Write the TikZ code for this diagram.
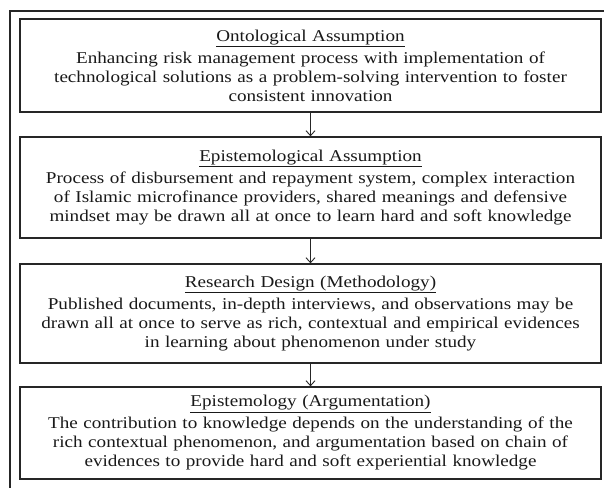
\documentclass[tikz,border=0pt]{standalone}
\usepackage{fontspec}
\setmainfont{Liberation Serif}[FakeStretch=1.16]
\usepackage{tikz}
\usetikzlibrary{arrows.meta}
\tikzstyle{arrow} = [-{Straight Barb[length=5pt,width=9pt]},line width=0.9pt]
\tikzstyle{stage} = [draw,line width=1.3pt,minimum width=581pt,text width=579pt,align=center,inner sep=0pt,text=black!90,font=\fontsize{16.5}{19}\selectfont]

\begin{document}
\begin{tikzpicture}[x=1pt,y=-1pt,color=black!85]
        \useasboundingbox (0,0) rectangle (604,487);
        \draw[line width=1.3pt] (10,11) rectangle (612,495);

        \node[stage, minimum height=93pt] at (310.5,65.5) (onto) {\underline{Ontological Assumption}\\[3pt]
          Enhancing risk management process with implementation of\\
          technological solutions as a problem-solving intervention to foster\\
          consistent innovation};
        \node[stage, minimum height=101pt] at (310.5,187.5) (epis) {\underline{Epistemological Assumption}\\[3pt]
          Process of disbursement and repayment system, complex interaction\\
          of Islamic microfinance providers, shared meanings and defensive\\
          mindset may be drawn all at once to learn hard and soft knowledge};
        \node[stage, minimum height=99pt] at (310.5,313.5) (design) {\underline{Research Design (Methodology)}\\[3pt]
          Published documents, in-depth interviews, and observations may be\\
          drawn all at once to serve as rich, contextual and empirical evidences\\
          in learning about phenomenon under study};
        \node[stage, minimum height=92pt] at (310.5,433) (argu) {\underline{Epistemology (Argumentation)}\\[3pt]
          The contribution to knowledge depends on the understanding of the\\
          rich contextual phenomenon, and argumentation based on chain of\\
          evidences to provide hard and soft experiential knowledge};

        \draw[arrow] (onto) -- (epis);
        \draw[arrow] (epis) -- (design);
        \draw[arrow] (design) -- (argu);
\end{tikzpicture}
\end{document}
